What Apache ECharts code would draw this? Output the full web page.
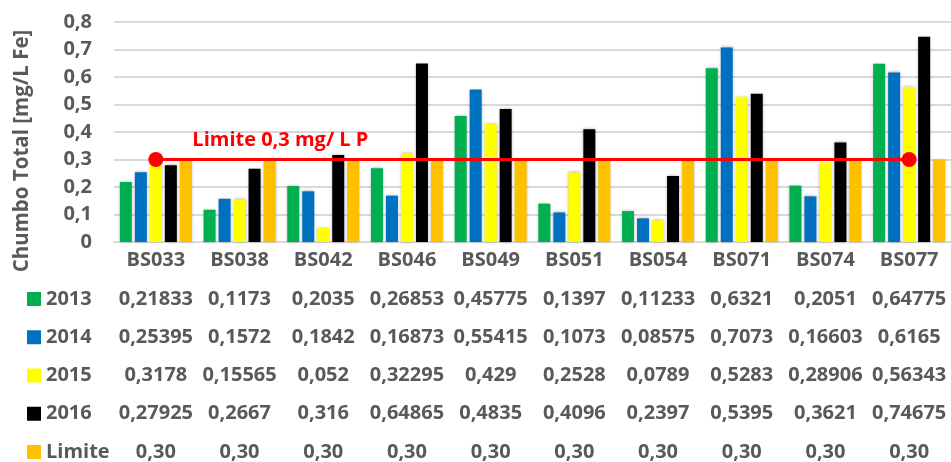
<!DOCTYPE html>
<html>
<head>
<meta charset="utf-8">
<script src="https://cdn.jsdelivr.net/npm/echarts@6/dist/echarts.min.js"></script>
<style>
  html, body { margin: 0; padding: 0; background: #fff; }
  #chart { width: 951px; height: 462px; }
</style>
</head>
<body>
<div id="chart"></div>
<script>
// Lead concentration per sampling station, 2013-2016, against the 0.3 mg/L limit
const stations = ['BS033', 'BS038', 'BS042', 'BS046', 'BS049', 'BS051', 'BS054', 'BS071', 'BS074', 'BS077'];
const years = ['2013', '2014', '2015', '2016'];
const values2013 = [0.21833, 0.1173, 0.2035, 0.26853, 0.45775, 0.1397, 0.11233, 0.6321, 0.2051, 0.64775];
const values2014 = [0.25395, 0.1572, 0.1842, 0.16873, 0.55415, 0.1073, 0.08575, 0.7073, 0.16603, 0.6165];
const values2015 = [0.3178, 0.15565, 0.052, 0.32295, 0.429, 0.2528, 0.0789, 0.5283, 0.28906, 0.56343];
const values2016 = [0.27925, 0.2667, 0.316, 0.64865, 0.4835, 0.4096, 0.2397, 0.5395, 0.3621, 0.74675];
const limitValues = [0.30, 0.30, 0.30, 0.30, 0.30, 0.30, 0.30, 0.30, 0.30, 0.30];
const limitName = 'Limite';
const limitLineEnds = ['BS033', 'BS077'];
const limitLineValue = 0.3;
const limitLineLabel = 'Limite 0,3 mg/ L P';
const yTicks = ['0', '0,1', '0,2', '0,3', '0,4', '0,5', '0,6', '0,7', '0,8'];
const yTitle = 'Chumbo Total [mg/L Fe]';

const colors = ['#00B050', '#0070C0', '#FFFF00', '#000000', '#FFC000'];
const textColor = '#595959';
const font = 'Open Sans';
const fontSize = 20;

const rows = [
  { name: years[0], data: values2013, fmt: v => String(v).replace('.', ',') },
  { name: years[1], data: values2014, fmt: v => String(v).replace('.', ',') },
  { name: years[2], data: values2015, fmt: v => String(v).replace('.', ',') },
  { name: years[3], data: values2016, fmt: v => String(v).replace('.', ',') },
  { name: limitName, data: limitValues, fmt: v => v.toFixed(2).replace('.', ',') }
];

// Data table layout: first row centre and spacing between rows (px)
const firstRowCenter = 299;
const rowSpacing = 38.25;
const labelStyle = { color: textColor, fontFamily: font, fontWeight: 'bold', fontSize: fontSize };

// Category axis plus one hidden axis per table row holding the formatted values
const xAxes = [{
  type: 'category',
  data: stations,
  axisLine: { lineStyle: { color: '#d9d9d9', width: 2 } },
  axisTick: { show: false },
  axisLabel: Object.assign({ margin: 8 }, labelStyle)
}].concat(rows.map((r, i) => ({
  type: 'category',
  data: r.data.map(r.fmt),
  position: 'bottom',
  offset: 41 + i * rowSpacing,
  axisLine: { show: false },
  axisTick: { show: false },
  axisLabel: Object.assign({ margin: 6, interval: 0 }, labelStyle)
})));

// One legend per table row so each key sits beside its row
const legends = rows.map((r, i) => ({
  data: [r.name],
  left: 27,
  top: firstRowCenter + i * rowSpacing - 10,
  padding: 0,
  itemWidth: 14,
  itemHeight: 14,
  icon: 'rect',
  selectedMode: false,
  textStyle: { color: textColor, fontFamily: font, fontWeight: 'bold', fontSize: fontSize, lineHeight: 20 }
}));

const barSeries = rows.map((r, i) => ({
  name: r.name,
  type: 'bar',
  data: r.data,
  barWidth: 12,
  barGap: '25%',
  itemStyle: {
    color: colors[i],
    shadowBlur: 3,
    shadowColor: 'rgba(0,0,0,0.35)'
  },
  emphasis: { disabled: true }
}));

const lineSeries = {
  name: limitLineLabel,
  type: 'line',
  data: limitLineEnds.map(s => [s, limitLineValue]),
  symbol: 'circle',
  symbolSize: 15,
  lineStyle: { color: '#FF0000', width: 3 },
  itemStyle: { color: '#FF0000' },
  z: 5,
  label: {
    show: true,
    position: 'right',
    offset: [24, -19],
    color: '#FF0000',
    fontFamily: font,
    fontWeight: 'bold',
    fontSize: fontSize,
    formatter: p => (p.dataIndex === 0 ? limitLineLabel : '')
  }
};

const chart = echarts.init(document.getElementById('chart'), null, { renderer: 'canvas' });
chart.setOption({
  animation: false,
  backgroundColor: '#ffffff',
  grid: { left: 114, right: 0, top: 22, bottom: 220, containLabel: false, outerBoundsMode: 'none' },
  legend: legends,
  xAxis: xAxes,
  yAxis: {
    type: 'value',
    min: 0,
    max: 0.8,
    interval: 0.1,
    name: yTitle,
    nameLocation: 'middle',
    nameGap: 81,
    nameRotate: 90,
    nameTextStyle: { color: textColor, fontFamily: font, fontWeight: 'bold', fontSize: 20.5, padding: [0, 38, 0, 0] },
    axisLine: { show: false },
    axisTick: { show: false },
    splitLine: { lineStyle: { color: '#d9d9d9', width: 2 } },
    axisLabel: Object.assign({ margin: 22, formatter: (v, i) => yTicks[i] }, labelStyle)
  },
  series: barSeries.concat([lineSeries])
});
</script>
</body>
</html>
